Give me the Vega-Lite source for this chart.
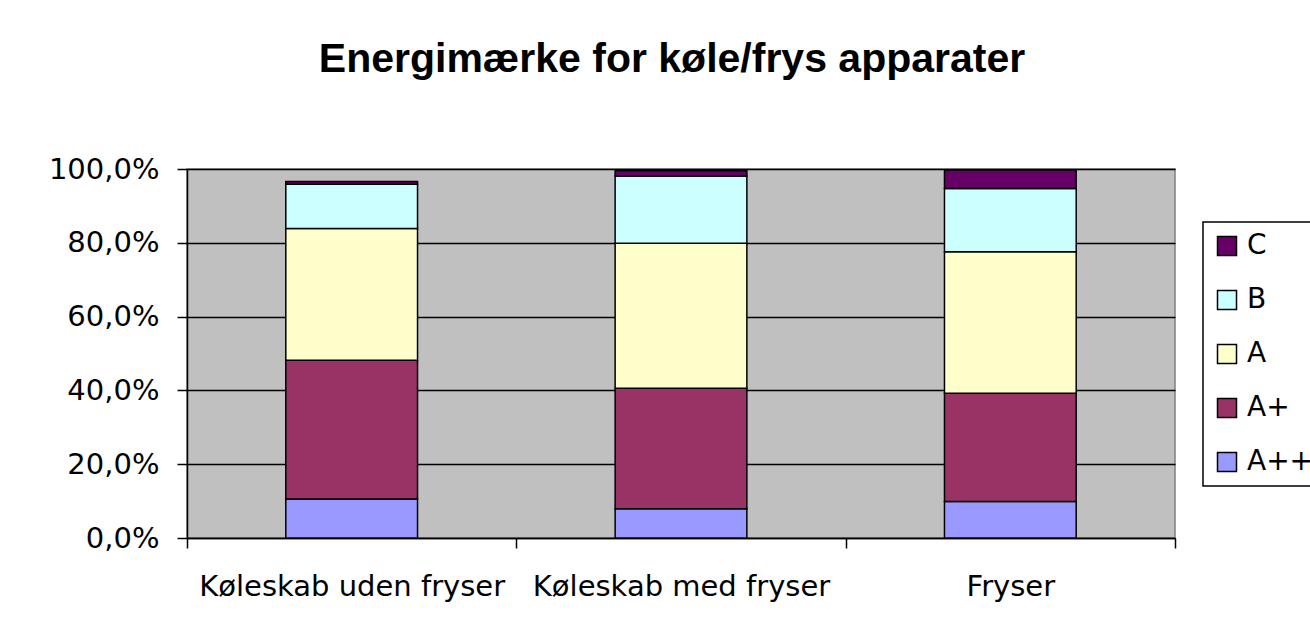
{
  "$schema": "https://vega.github.io/schema/vega-lite/v6.json",
  "autosize": {"type": "none"},
  "width": 988,
  "height": 369,
  "padding": {"left": 187, "top": 169, "right": 135, "bottom": 101},
  "background": "white",
  "title": {
    "text": "Energimærke for køle/frys apparater",
    "font": "Liberation Sans",
    "fontSize": 41,
    "fontWeight": "bold",
    "color": "black",
    "anchor": "middle",
    "baseline": "alphabetic",
    "offset": 42,
    "dx": -9
  },
  "config": {
    "view": {"fill": "#C0C0C0", "stroke": "#808080", "strokeWidth": 1.5},
    "font": "DejaVu Sans"
  },
  "data": {
    "values": [
      {"Apparat": "Køleskab uden fryser", "Klasse": "A++", "Andel": 10.6},
      {"Apparat": "Køleskab uden fryser", "Klasse": "A+", "Andel": 37.6},
      {"Apparat": "Køleskab uden fryser", "Klasse": "A", "Andel": 35.7},
      {"Apparat": "Køleskab uden fryser", "Klasse": "B", "Andel": 12.0},
      {"Apparat": "Køleskab uden fryser", "Klasse": "C", "Andel": 0.7},
      {"Apparat": "Køleskab med fryser", "Klasse": "A++", "Andel": 7.9},
      {"Apparat": "Køleskab med fryser", "Klasse": "A+", "Andel": 32.7},
      {"Apparat": "Køleskab med fryser", "Klasse": "A", "Andel": 39.3},
      {"Apparat": "Køleskab med fryser", "Klasse": "B", "Andel": 18.2},
      {"Apparat": "Køleskab med fryser", "Klasse": "C", "Andel": 1.4},
      {"Apparat": "Fryser", "Klasse": "A++", "Andel": 9.9},
      {"Apparat": "Fryser", "Klasse": "A+", "Andel": 29.3},
      {"Apparat": "Fryser", "Klasse": "A", "Andel": 38.4},
      {"Apparat": "Fryser", "Klasse": "B", "Andel": 17.1},
      {"Apparat": "Fryser", "Klasse": "C", "Andel": 5.0}
    ]
  },
  "transform": [
    {"calculate": "indexof(['A++', 'A+', 'A', 'B', 'C'], datum.Klasse)", "as": "rang"}
  ],
  "mark": {"type": "bar", "stroke": "black", "strokeWidth": 1.5, "width": {"band": 0.4}},
  "encoding": {
    "x": {
      "field": "Apparat",
      "type": "nominal",
      "sort": ["Køleskab uden fryser", "Køleskab med fryser", "Fryser"],
      "scale": {"paddingInner": 0, "paddingOuter": 0},
      "axis": {
        "title": null,
        "labelAngle": 0,
        "labelFont": "DejaVu Sans",
        "labelFontSize": 29,
        "labelColor": "black",
        "labelPadding": 24,
        "labelBaseline": "top",
        "labelLimit": 500,
        "tickBand": "extent",
        "tickSize": 10,
        "tickColor": "black",
        "tickWidth": 1.5,
        "domainColor": "black",
        "domainWidth": 1.5,
        "grid": false
      }
    },
    "y": {
      "field": "Andel",
      "type": "quantitative",
      "stack": "zero",
      "scale": {"domain": [0, 100], "nice": false},
      "axis": {
        "title": null,
        "values": [0, 20, 40, 60, 80, 100],
        "labelExpr": "replace(format(datum.value / 100, '.1%'), '.', ',')",
        "labelFont": "DejaVu Sans",
        "labelFontSize": 29,
        "labelColor": "black",
        "labelPadding": 18,
        "tickSize": 10,
        "tickColor": "black",
        "tickWidth": 1.5,
        "domainColor": "black",
        "domainWidth": 1.5,
        "grid": true,
        "gridColor": "black",
        "gridWidth": 1.5,
        "gridOpacity": 1
      }
    },
    "order": {"field": "rang", "type": "quantitative", "sort": "ascending"},
    "color": {
      "field": "Klasse",
      "type": "nominal",
      "scale": {
        "domain": ["A++", "A+", "A", "B", "C"],
        "range": ["#9999FF", "#993366", "#FFFFCC", "#CCFFFF", "#660066"]
      },
      "legend": {
        "title": null,
        "values": ["C", "B", "A", "A+", "A++"],
        "orient": "none",
        "legendX": 1016,
        "legendY": 53,
        "direction": "vertical",
        "fillColor": "white",
        "strokeColor": "black",
        "padding": 10,
        "symbolOffset": 0,
        "symbolType": "square",
        "symbolSize": 361,
        "symbolStrokeColor": "black",
        "symbolStrokeWidth": 1.5,
        "symbolOpacity": 1,
        "labelFont": "DejaVu Sans",
        "labelFontSize": 28,
        "labelColor": "black",
        "labelOffset": 6,
        "rowPadding": 26,
        "labelLimit": 200,
        "encode": {"legend": {"update": {"strokeWidth": {"value": 1.5}}}}
      }
    }
  }
}
